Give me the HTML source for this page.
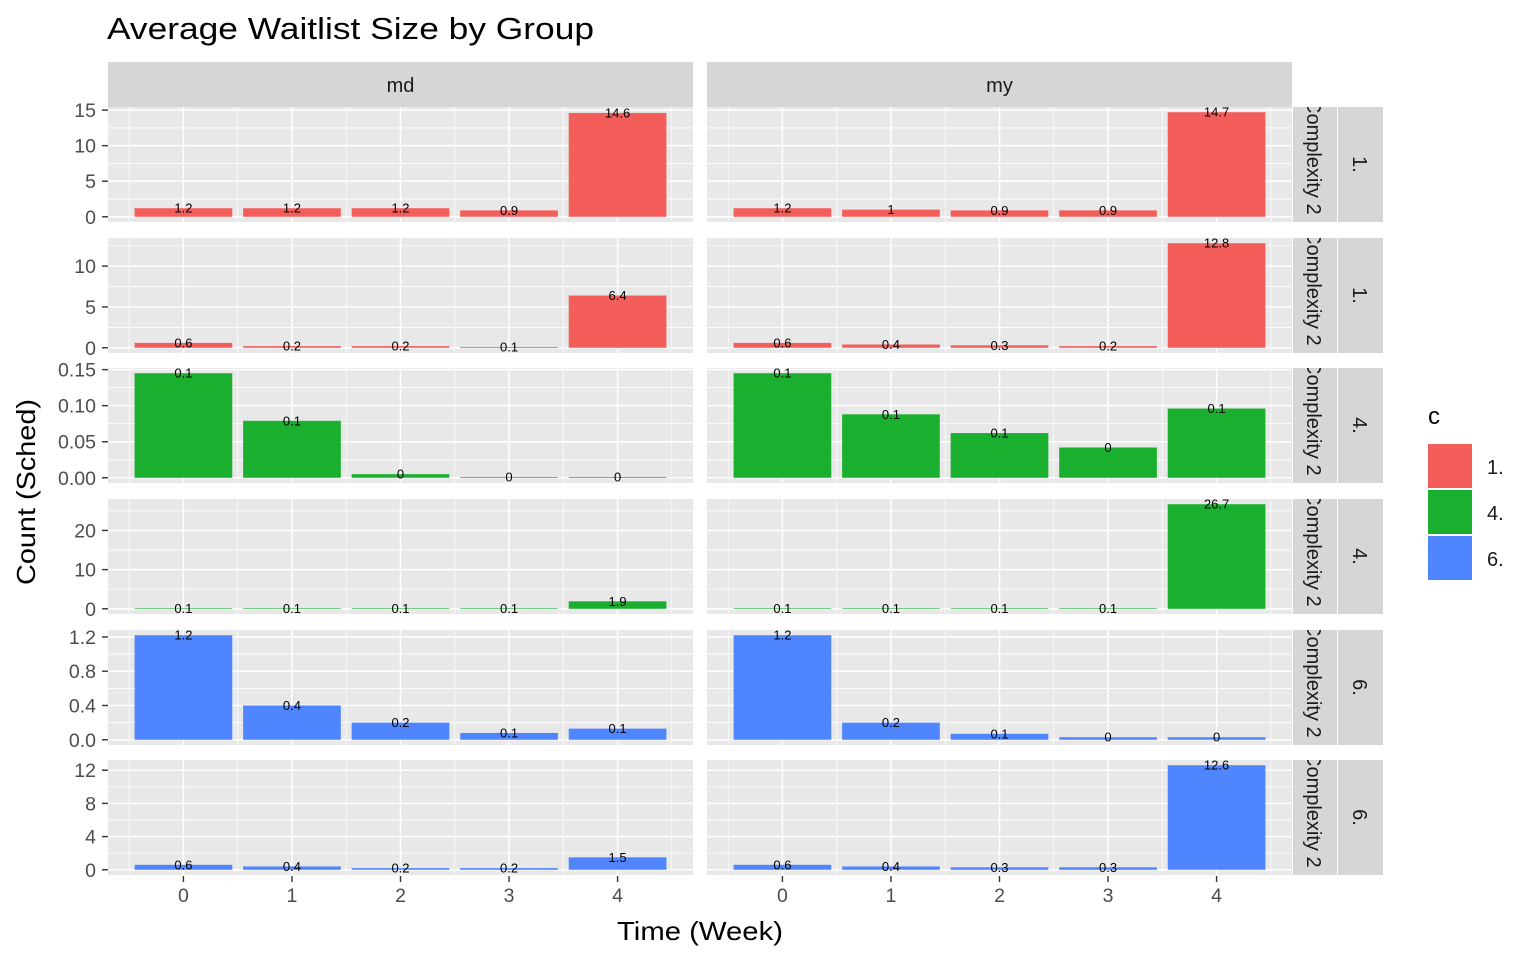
<!DOCTYPE html>
<html><head><meta charset="utf-8">
<style>
html,body{margin:0;padding:0;background:#fff;}
svg{display:block;font-family:"Liberation Sans",Arial,sans-serif;}
</style></head>
<body>
<svg id="chart" width="1536" height="960" viewBox="0 0 1536 960">
<text x="107" y="39" font-size="31" textLength="487" lengthAdjust="spacingAndGlyphs" fill="#000">Average Waitlist Size by Group</text>
<text transform="translate(35,492) rotate(-90)" text-anchor="middle" font-size="26" textLength="186" lengthAdjust="spacingAndGlyphs">Count (Sched)</text>
<text x="700" y="940" text-anchor="middle" font-size="26" textLength="166" lengthAdjust="spacingAndGlyphs">Time (Week)</text>
<g id="panels"></g>
<g>
<text x="1428" y="424" font-size="24">c</text>
<rect x="1428" y="444" width="44" height="44" fill="#F35E5A"/>
<rect x="1428" y="490" width="44" height="44" fill="#1AAF2F"/>
<rect x="1428" y="536" width="44" height="44" fill="#4F86FF"/>
<text x="1487" y="474" font-size="20" fill="#1a1a1a">1.</text>
<text x="1487" y="520" font-size="20" fill="#1a1a1a">4.</text>
<text x="1487" y="566" font-size="20" fill="#1a1a1a">6.</text>
</g>
</svg>
<script>
const categories = [0, 1, 2, 3, 4];
const columns = ["md", "my"];
const rowLabels = ["1.", "1.", "4.", "4.", "6.", "6."];
const rowColors = ["#F35E5A", "#F35E5A", "#1AAF2F", "#1AAF2F", "#4F86FF", "#4F86FF"];
const row1Md = [1.2, 1.2, 1.2, 0.9, 14.6];
const row1My = [1.2, 1.0, 0.9, 0.9, 14.7];
const row2Md = [0.6, 0.2, 0.2, 0.1, 6.4];
const row2My = [0.6, 0.4, 0.3, 0.2, 12.8];
const row3Md = [0.145, 0.079, 0.005, 0.001, 0.001];
const row3My = [0.145, 0.088, 0.062, 0.042, 0.096];
const row4Md = [0.1, 0.1, 0.1, 0.1, 1.9];
const row4My = [0.1, 0.1, 0.1, 0.1, 26.7];
const row5Md = [1.22, 0.4, 0.2, 0.08, 0.13];
const row5My = [1.22, 0.2, 0.07, 0.03, 0.03];
const row6Md = [0.6, 0.4, 0.2, 0.2, 1.5];
const row6My = [0.6, 0.4, 0.3, 0.3, 12.6];
const row1Ticks = [0, 5, 10, 15];
const row2Ticks = [0, 5, 10];
const row3Ticks = [0, 0.05, 0.10, 0.15];
const row3TickLabels = ["0.00", "0.05", "0.10", "0.15"];
const row4Ticks = [0, 10, 20];
const row5Ticks = [0, 0.4, 0.8, 1.2];
const row5TickLabels = ["0.0", "0.4", "0.8", "1.2"];
const row6Ticks = [0, 4, 8, 12];

const rows = [
  {md: row1Md, my: row1My, ticks: row1Ticks, labels: row1Ticks.map(String)},
  {md: row2Md, my: row2My, ticks: row2Ticks, labels: row2Ticks.map(String)},
  {md: row3Md, my: row3My, ticks: row3Ticks, labels: row3TickLabels},
  {md: row4Md, my: row4My, ticks: row4Ticks, labels: row4Ticks.map(String)},
  {md: row5Md, my: row5My, ticks: row5Ticks, labels: row5TickLabels},
  {md: row6Md, my: row6My, ticks: row6Ticks, labels: row6Ticks.map(String)}
];
const NS = "http://www.w3.org/2000/svg";
const g = document.getElementById("panels");
function mk(tag, attrs, parent) {
  const e = document.createElementNS(NS, tag);
  for (const k in attrs) e.setAttribute(k, attrs[k]);
  (parent || g).appendChild(e);
  return e;
}
const colX = [108, 707], panelW = 585;
const rowTop = [107, 238, 368, 499, 630, 760], panelH = 115;
const xmin = -0.695, xmax = 4.695;
function xs(col, v) { return colX[col] + (v - xmin) / (xmax - xmin) * panelW; }
const barW = 0.9 / (xmax - xmin) * panelW;

columns.forEach((c, ci) => {
  const r = mk("rect", {x: colX[ci], y: 62, width: panelW, height: 45, fill: "#D6D6D6"});
  
  
  const t = mk("text", {x: colX[ci] + panelW / 2, y: 92, "text-anchor": "middle", "font-size": 20, fill: "#1a1a1a"});
  t.textContent = c;
  
  
});

rows.forEach((row, ri) => {
  const top = rowTop[ri];
  const mx = Math.max(...row.md, ...row.my);
  const ymin = -0.05 * mx, ymax = 1.05 * mx;
  const ys = v => top + panelH - (v - ymin) / (ymax - ymin) * panelH;
  columns.forEach((c, ci) => {
    const bg = mk("rect", {x: colX[ci], y: top, width: panelW, height: panelH, fill: "#E8E8E8"});
    
    
    for (let i = 0; i < row.ticks.length; i++) {
      const step = row.ticks[1] - row.ticks[0];
      [row.ticks[i] - step / 2, row.ticks[i] + step / 2].forEach(m => {
        if (m > ymin && m < ymax) mk("line", {x1: colX[ci], x2: colX[ci] + panelW, y1: ys(m), y2: ys(m), stroke: "#fff", "stroke-width": 0.7});
      });
    }
    for (let k = -0.5; k <= 4.5; k += 1) mk("line", {x1: xs(ci, k), x2: xs(ci, k), y1: top, y2: top + panelH, stroke: "#fff", "stroke-width": 0.7});
    row.ticks.forEach(tv => mk("line", {x1: colX[ci], x2: colX[ci] + panelW, y1: ys(tv), y2: ys(tv), stroke: "#fff", "stroke-width": 1.5}));
    categories.forEach(k => mk("line", {x1: xs(ci, k), x2: xs(ci, k), y1: top, y2: top + panelH, stroke: "#fff", "stroke-width": 1.5}));
    const vals = row[c];
    vals.forEach((v, i) => {
      const b = mk("rect", {x: xs(ci, categories[i]) - barW / 2, y: ys(v), width: barW, height: Math.max(0.6, ys(0) - ys(v)), fill: rowColors[ri]});
      
      
      const t = mk("text", {x: xs(ci, categories[i]), y: ys(v) + 4.5, "text-anchor": "middle", "font-size": 13, fill: "#000"});
      t.textContent = String(Math.round(v * 10) / 10);
      
      
    });
  });
  row.ticks.forEach((tv, i) => {
    mk("line", {x1: 102, x2: 108, y1: ys(tv), y2: ys(tv), stroke: "#333", "stroke-width": 1.4});
    const t = mk("text", {x: 96, y: ys(tv) + 7, "text-anchor": "end", "font-size": 19.5, fill: "#4D4D4D"});
    t.textContent = row.labels[i];
    
    
  });
  const cp = mk("clipPath", {id: "clip" + ri});
  mk("rect", {x: 1293, y: top, width: 44, height: panelH}, cp);
  const s1 = mk("rect", {x: 1293, y: top, width: 44, height: panelH, fill: "#D6D6D6"});
  
  
  const cg = mk("g", {"clip-path": `url(#clip${ri})`});
  const st = mk("text", {transform: `translate(1307,${top - 8}) rotate(90)`, "font-size": 20, fill: "#1a1a1a"}, cg);
  st.textContent = "Complexity 2";
  
  
  const s2 = mk("rect", {x: 1338, y: top, width: 45, height: panelH, fill: "#D6D6D6"});
  
  
  const lt = mk("text", {transform: `translate(1353,${top + panelH / 2}) rotate(90)`, "text-anchor": "middle", "font-size": 20, fill: "#1a1a1a"});
  lt.textContent = rowLabels[ri];
  
  
});

columns.forEach((c, ci) => {
  categories.forEach(k => {
    mk("line", {x1: xs(ci, k), x2: xs(ci, k), y1: 876, y2: 882, stroke: "#333", "stroke-width": 1.4});
    const t = mk("text", {x: xs(ci, k), y: 902, "text-anchor": "middle", "font-size": 19.5, fill: "#4D4D4D"});
    t.textContent = String(k);
    
    
  });
});
</script>
</body></html>
